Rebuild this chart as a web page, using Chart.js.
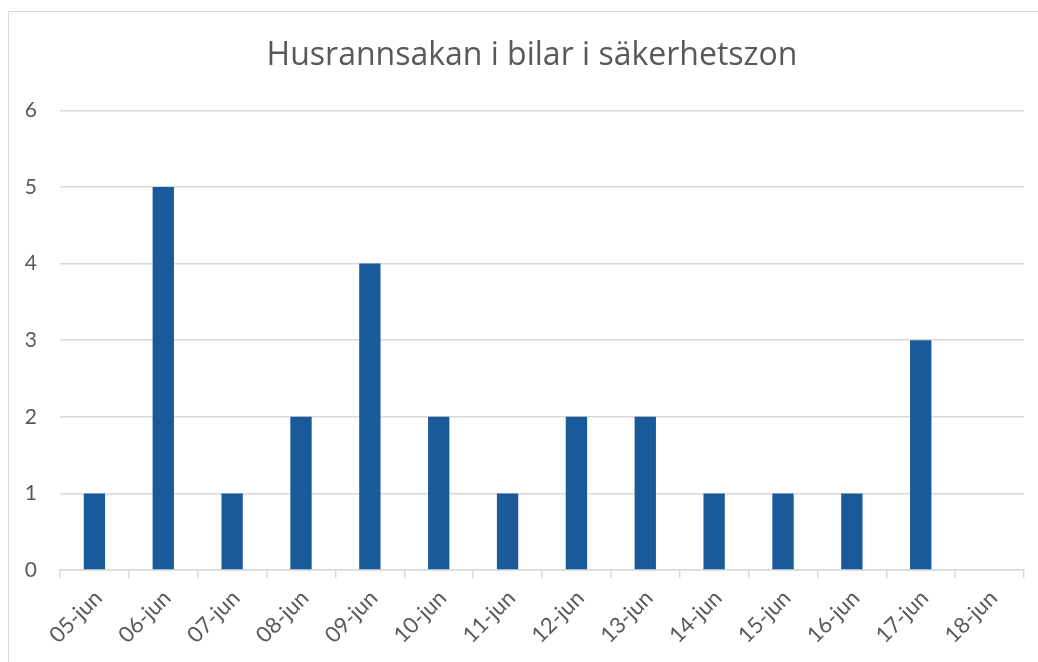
<!DOCTYPE html>
<html>
<head>
<meta charset="utf-8">
<script src="https://cdn.jsdelivr.net/npm/chart.js@4"></script>
<style>
  html, body { margin: 0; padding: 0; background: #fff; }
  #wrap { position: relative; width: 1038px; height: 662px; overflow: hidden; }
  #frame { position: absolute; left: 8px; top: 11px; width: 1100px; height: 700px;
           border: 1.5px solid #d9d9d9; box-sizing: border-box; }
  canvas { position: absolute; left: 0; top: 0; }
</style>
</head>
<body>
<div id="wrap">
  <div id="frame"></div>
  <canvas id="chart" width="1038" height="662"></canvas>
</div>
<script>
// --- data ---
const days = ['05-jun', '06-jun', '07-jun', '08-jun', '09-jun', '10-jun', '11-jun',
              '12-jun', '13-jun', '14-jun', '15-jun', '16-jun', '17-jun', '18-jun'];
const searches = [1, 5, 1, 2, 4, 2, 1, 2, 2, 1, 1, 1, 3, 0];
const yTicks = [0, 1, 2, 3, 4, 5, 6];

const titleText = 'Husrannsakan i bilar i säkerhetszon';
const textGrey = '#595959';
const lineGrey = '#d9d9d9';
const barBlue = '#1b5a9a';
const fontFamily = 'Lato, "Open Sans", sans-serif';

// the original chart is wider than the window, so its title sits right of centre
const titleShift = {
    id: 'titleShift',
    afterLayout(chart) {
        if (chart.titleBlock) {
            chart.titleBlock.left += 20;
            chart.titleBlock.right += 20;
        }
    }
};

const ctx = document.getElementById('chart');
new Chart(ctx, {
    type: 'bar',
    data: {
        labels: days,
        datasets: [{
            data: searches,
            backgroundColor: barBlue,
            borderWidth: 0,
            categoryPercentage: 1,
            barPercentage: 0.31
        }]
    },
    plugins: [titleShift],
    options: {
        responsive: false,
        animation: false,
        layout: { padding: { left: 0, right: 14, top: 0, bottom: 0 } },
        plugins: {
            legend: { display: false },
            tooltip: { enabled: false },
            title: {
                display: true,
                text: titleText,
                color: textGrey,
                font: { family: '"Open Sans", sans-serif', size: 32, weight: 'normal', lineHeight: 1.2 },
                padding: { top: 37, bottom: 35 }
            }
        },
        scales: {
            x: {
                grid: {
                    offset: true,
                    drawOnChartArea: false,
                    drawTicks: true,
                    tickLength: 8,
                    color: lineGrey,
                    lineWidth: 1.5
                },
                border: { display: true, color: lineGrey, width: 1.5 },
                ticks: {
                    color: textGrey,
                    font: { family: fontFamily, size: 22 },
                    minRotation: 45,
                    maxRotation: 45,
                    padding: 7,
                    labelOffset: 4,
                    autoSkip: false
                },
                afterFit: scale => { scale.height = 92; }
            },
            y: {
                min: 0,
                max: 6,
                afterBuildTicks: scale => { scale.ticks = yTicks.map(v => ({ value: v })); },
                grid: { color: lineGrey, lineWidth: 1.5, drawTicks: false },
                border: { display: false },
                ticks: {
                    color: textGrey,
                    font: { family: fontFamily, size: 21 },
                    padding: 23
                },
                afterFit: scale => { scale.width = 60; }
            }
        }
    }
});
</script>
</body>
</html>
